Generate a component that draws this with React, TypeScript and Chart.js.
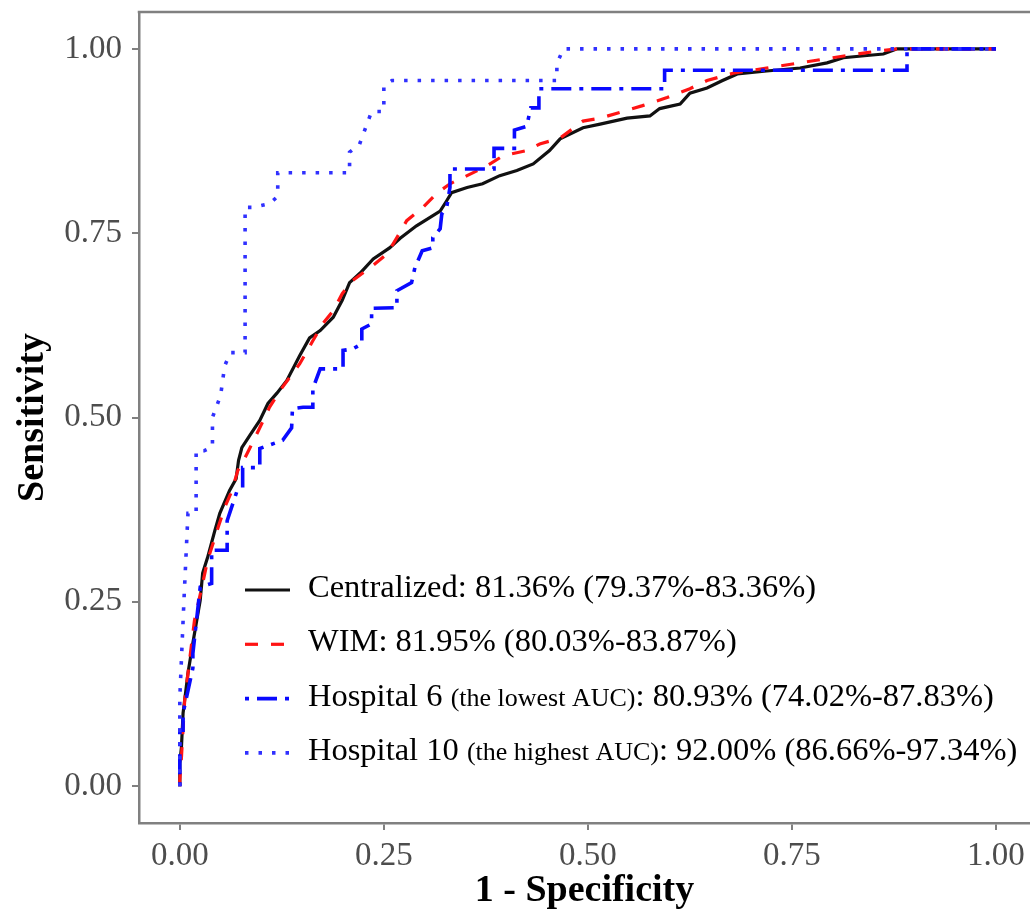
import React, { useEffect, useRef } from 'react';
import { Chart, registerables } from 'chart.js';

Chart.register(...registerables);

// ---------- data ----------
const seriesNames = ['Centralized', 'WIM', 'Hospital 6', 'Hospital 10'];
const seriesNotes = ['', '', '(the lowest AUC)', '(the highest AUC)'];
const seriesAuc = [
  '81.36% (79.37%-83.36%)',
  '81.95% (80.03%-83.87%)',
  '80.93% (74.02%-87.83%)',
  '92.00% (86.66%-97.34%)',
];

const centralizedFpr = [0, 0, 0.002, 0.004, 0.010, 0.016, 0.025, 0.028, 0.034, 0.043, 0.049, 0.061, 0.069, 0.072, 0.076, 0.086, 0.098, 0.108, 0.119, 0.131, 0.147, 0.159, 0.172, 0.188, 0.199, 0.208, 0.221, 0.237, 0.257, 0.270, 0.290, 0.319, 0.327, 0.333, 0.352, 0.371, 0.392, 0.413, 0.433, 0.453, 0.466, 0.494, 0.515, 0.548, 0.576, 0.588, 0.613, 0.625, 0.646, 0.665, 0.683, 0.719, 0.760, 0.793, 0.813, 0.842, 0.862, 0.879, 1];
const centralizedTpr = [0, 0.031, 0.053, 0.099, 0.153, 0.194, 0.252, 0.289, 0.310, 0.347, 0.370, 0.401, 0.417, 0.442, 0.459, 0.476, 0.496, 0.519, 0.533, 0.550, 0.584, 0.608, 0.618, 0.636, 0.659, 0.683, 0.696, 0.715, 0.730, 0.743, 0.760, 0.780, 0.794, 0.805, 0.812, 0.817, 0.828, 0.835, 0.844, 0.862, 0.878, 0.893, 0.898, 0.906, 0.909, 0.919, 0.925, 0.940, 0.947, 0.957, 0.966, 0.970, 0.974, 0.981, 0.988, 0.991, 0.993, 1, 1];

const wimFpr = [0, 0, 0.002, 0.006, 0.012, 0.018, 0.027, 0.034, 0.047, 0.055, 0.064, 0.071, 0.077, 0.086, 0.098, 0.110, 0.123, 0.147, 0.163, 0.175, 0.188, 0.199, 0.212, 0.233, 0.254, 0.266, 0.278, 0.298, 0.315, 0.331, 0.352, 0.376, 0.396, 0.425, 0.441, 0.466, 0.494, 0.515, 0.567, 0.597, 0.625, 0.646, 0.678, 0.719, 0.760, 0.800, 0.842, 0.879, 1];
const wimTpr = [0, 0.008, 0.039, 0.117, 0.171, 0.225, 0.270, 0.306, 0.351, 0.378, 0.401, 0.428, 0.439, 0.459, 0.486, 0.514, 0.537, 0.573, 0.604, 0.627, 0.645, 0.668, 0.686, 0.703, 0.722, 0.744, 0.767, 0.785, 0.804, 0.817, 0.828, 0.841, 0.855, 0.862, 0.871, 0.879, 0.902, 0.906, 0.923, 0.934, 0.946, 0.957, 0.967, 0.974, 0.981, 0.988, 0.995, 1, 1];

const hospital6Fpr = [0, 0, 0.004, 0.004, 0.016, 0.016, 0.025, 0.039, 0.039, 0.058, 0.058, 0.070, 0.077, 0.077, 0.098, 0.098, 0.126, 0.137, 0.138, 0.151, 0.163, 0.163, 0.172, 0.200, 0.200, 0.212, 0.223, 0.223, 0.235, 0.235, 0.266, 0.266, 0.284, 0.288, 0.297, 0.310, 0.310, 0.319, 0.321, 0.327, 0.331, 0.331, 0.385, 0.385, 0.410, 0.410, 0.425, 0.430, 0.440, 0.440, 0.594, 0.594, 0.891, 0.891, 1];
const hospital6Tpr = [0, 0.076, 0.076, 0.099, 0.160, 0.180, 0.270, 0.275, 0.320, 0.320, 0.360, 0.400, 0.405, 0.432, 0.432, 0.458, 0.469, 0.486, 0.512, 0.514, 0.514, 0.539, 0.566, 0.566, 0.591, 0.593, 0.600, 0.620, 0.627, 0.648, 0.649, 0.672, 0.683, 0.703, 0.726, 0.730, 0.744, 0.756, 0.776, 0.785, 0.812, 0.837, 0.837, 0.865, 0.865, 0.890, 0.895, 0.920, 0.920, 0.946, 0.946, 0.971, 0.971, 1, 1];

const hospital10Fpr = [0, 0, 0.005, 0.010, 0.020, 0.020, 0.030, 0.040, 0.040, 0.050, 0.055, 0.062, 0.080, 0.080, 0.090, 0.110, 0.120, 0.120, 0.208, 0.208, 0.220, 0.230, 0.235, 0.250, 0.250, 0.260, 0.462, 0.462, 0.470, 1];
const hospital10Tpr = [0, 0.120, 0.250, 0.370, 0.370, 0.455, 0.455, 0.460, 0.500, 0.530, 0.570, 0.588, 0.588, 0.785, 0.785, 0.790, 0.800, 0.832, 0.832, 0.860, 0.870, 0.900, 0.915, 0.915, 0.950, 0.957, 0.957, 0.980, 1, 1];

const tickValues = [0, 0.25, 0.5, 0.75, 1];
const xTitle = '1 - Specificity';
const yTitle = 'Sensitivity';

// ---------- styles ----------
const FONT = "'Liberation Serif', 'Times New Roman', serif";
const BORDER = '#808080';
const TICK_COLOR = '#4d4d4d';
const seriesColors = ['#111111', '#ff1414', '#0a0aff', '#3030ff'];
const seriesDash: number[][] = [[], [13, 13], [4, 8, 20, 8], [3.5, 10]];
const seriesWidth = [3.2, 3.2, 3.6, 3.6];

const toPoints = (xs: number[], ys: number[]) => xs.map((x, i) => ({ x, y: ys[i] }));
const seriesData = [
  toPoints(centralizedFpr, centralizedTpr),
  toPoints(wimFpr, wimTpr),
  toPoints(hospital6Fpr, hospital6Tpr),
  toPoints(hospital10Fpr, hospital10Tpr),
];

const framePlugin = {
  id: 'topFrame',
  afterDraw(chart: any) {
    const { ctx, chartArea } = chart;
    ctx.save();
    ctx.strokeStyle = BORDER;
    ctx.lineWidth = 2.5;
    ctx.beginPath();
    ctx.moveTo(chartArea.left - 1.25, chartArea.top);
    ctx.lineTo(chartArea.right, chartArea.top);
    ctx.stroke();
    ctx.restore();
  },
};

const legendPlugin = {
  id: 'rocLegend',
  afterDatasetsDraw(chart: any) {
    const { ctx, chartArea } = chart;
    const lineStart = chartArea.left + 106;
    const lineEnd = lineStart + 45;
    const textStart = lineStart + 63;
    const firstBaseline = chartArea.top + 585;
    const step = 54.3;
    const bigFont = `32.5px ${FONT}`;
    const smallFont = `26px ${FONT}`;
    ctx.save();
    seriesNames.forEach((name, i) => {
      const base = firstBaseline + i * step;
      const lineY = base - 7;
      ctx.save();
      ctx.strokeStyle = seriesColors[i];
      ctx.lineWidth = seriesWidth[i];
      ctx.lineCap = 'butt';
      ctx.setLineDash(seriesDash[i]);
      ctx.beginPath();
      ctx.moveTo(lineStart, lineY);
      ctx.lineTo(lineEnd, lineY);
      ctx.stroke();
      ctx.restore();

      ctx.fillStyle = '#000000';
      ctx.textBaseline = 'alphabetic';
      ctx.textAlign = 'left';
      let x = textStart;
      if (seriesNotes[i]) {
        ctx.font = bigFont;
        const first = name + ' ';
        ctx.fillText(first, x, base);
        x += ctx.measureText(first).width;
        ctx.font = smallFont;
        ctx.fillText(seriesNotes[i], x, base);
        x += ctx.measureText(seriesNotes[i]).width;
        ctx.font = bigFont;
        ctx.fillText(': ' + seriesAuc[i], x, base);
      } else {
        ctx.font = bigFont;
        ctx.fillText(name + ': ' + seriesAuc[i], x, base);
      }
    });
    ctx.restore();
  },
};

export default function App() {
  const canvasRef = useRef<HTMLCanvasElement | null>(null);

  useEffect(() => {
    const canvas = canvasRef.current;
    if (!canvas) return;
    const datasets = seriesNames.map((name, i) => ({
      label: name,
      data: seriesData[i],
      borderColor: seriesColors[i],
      backgroundColor: seriesColors[i],
      borderWidth: seriesWidth[i],
      borderDash: seriesDash[i],
      borderCapStyle: 'butt' as const,
      borderJoinStyle: 'miter' as const,
      pointRadius: 0,
      pointHoverRadius: 0,
      tension: 0,
      fill: false,
      order: seriesNames.length - i,
    }));

    const commonGrid = {
      display: true,
      drawOnChartArea: false,
      drawTicks: true,
      tickLength: 7,
      color: BORDER,
      lineWidth: 2,
    };

    const chart = new Chart(canvas, {
      type: 'line',
      data: { datasets },
      plugins: [framePlugin, legendPlugin],
      options: {
        animation: false,
        responsive: false,
        maintainAspectRatio: false,
        devicePixelRatio: 1,
        layout: { padding: { top: 12, left: 0, right: 0, bottom: 0 } },
        plugins: {
          legend: { display: false },
          tooltip: { enabled: false },
        },
        scales: {
          x: {
            type: 'linear',
            min: -0.05,
            max: 1.0417,
            afterBuildTicks: (scale: any) => {
              scale.ticks = tickValues.map((v) => ({ value: v }));
            },
            afterFit: (scale: any) => {
              scale.height = 91;
              scale.paddingLeft = 0;
              scale.paddingRight = 0;
            },
            ticks: {
              callback: (v: any) => Number(v).toFixed(2),
              font: { family: FONT, size: 33 },
              color: TICK_COLOR,
              padding: 7,
              maxRotation: 0,
              autoSkip: false,
            },
            grid: commonGrid,
            border: { display: true, color: BORDER, width: 2.5 },
            title: {
              display: true,
              text: xTitle,
              font: { family: FONT, size: 38, weight: 'bold' },
              color: '#000000',
              padding: { top: 0, bottom: 0 },
            },
          },
          y: {
            type: 'linear',
            min: -0.05,
            max: 1.05,
            afterBuildTicks: (scale: any) => {
              scale.ticks = tickValues.map((v) => ({ value: v }));
            },
            afterFit: (scale: any) => {
              scale.width = 139;
              scale.paddingTop = 0;
              scale.paddingBottom = 0;
            },
            ticks: {
              callback: (v: any) => Number(v).toFixed(2),
              font: { family: FONT, size: 33 },
              color: TICK_COLOR,
              padding: 10,
              autoSkip: false,
            },
            grid: commonGrid,
            border: { display: true, color: BORDER, width: 2.5 },
            title: {
              display: true,
              text: yTitle,
              font: { family: FONT, size: 38, weight: 'bold' },
              color: '#000000',
              padding: { top: 10, bottom: 0 },
            },
          },
        },
      },
    });
    return () => chart.destroy();
  }, []);

  return (
    <div style={{ position: 'fixed', left: 0, top: 0, width: 1030, height: 914, overflow: 'hidden', background: '#ffffff' }}>
      <canvas ref={canvasRef} width={1030} height={914} style={{ display: 'block', width: 1030, height: 914 }} />
    </div>
  );
}
